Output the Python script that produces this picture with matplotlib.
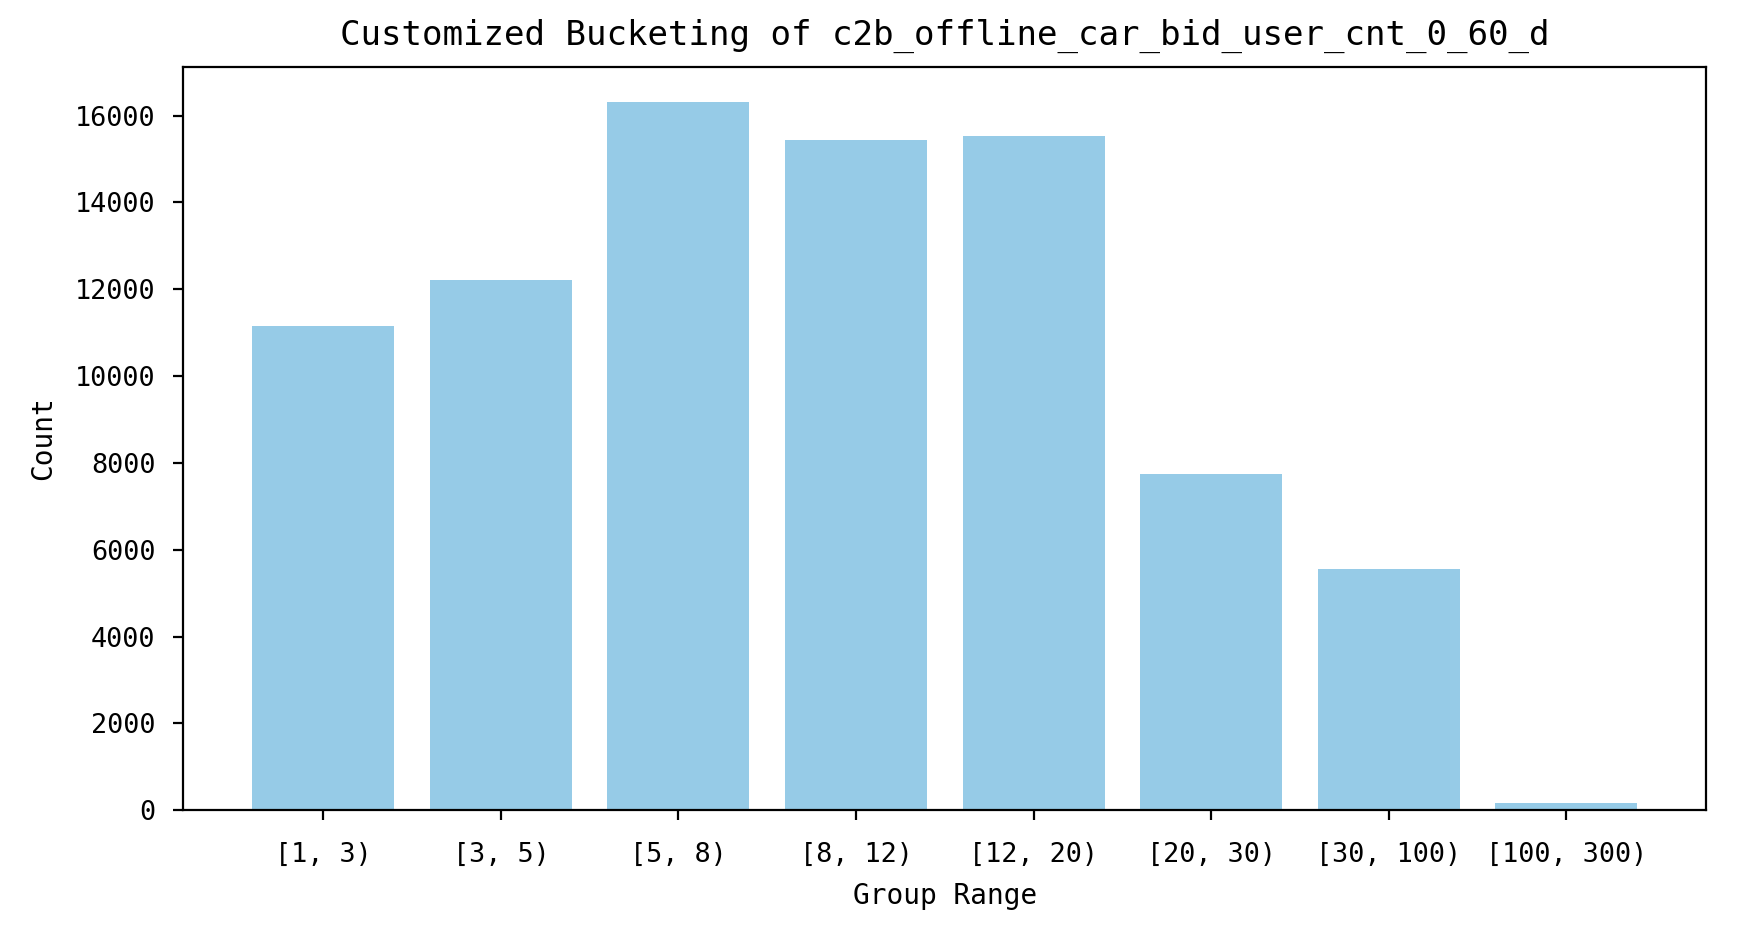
import matplotlib
matplotlib.use("Agg")
import matplotlib.pyplot as plt

plt.rcParams['font.family'] = ['DejaVu Sans Mono']

groups = ['[1, 3)', '[3, 5)', '[5, 8)', '[8, 12)', '[12, 20)',
          '[20, 30)', '[30, 100)', '[100, 300)']
counts = [11150, 12210, 16310, 15440, 15530, 7735, 5560, 160]

fig = plt.figure(figsize=(8.76, 4.67), dpi=200)
ax = fig.add_axes([0.1045, 0.1325, 0.8695, 0.796])

ax.bar(groups, counts, color='#96cbe7')
ax.set_title('Customized Bucketing of c2b_offline_car_bid_user_cnt_0_60_d',
             fontsize=12.3, pad=8)
ax.set_xlabel('Group Range', fontsize=10, labelpad=5)
ax.set_ylabel('Count', fontsize=10, labelpad=6.5)
ax.tick_params(labelsize=9.7)
ax.tick_params(axis='x', pad=8)
ax.tick_params(axis='y', pad=6.5)

fig.savefig('out.png', dpi=200)
